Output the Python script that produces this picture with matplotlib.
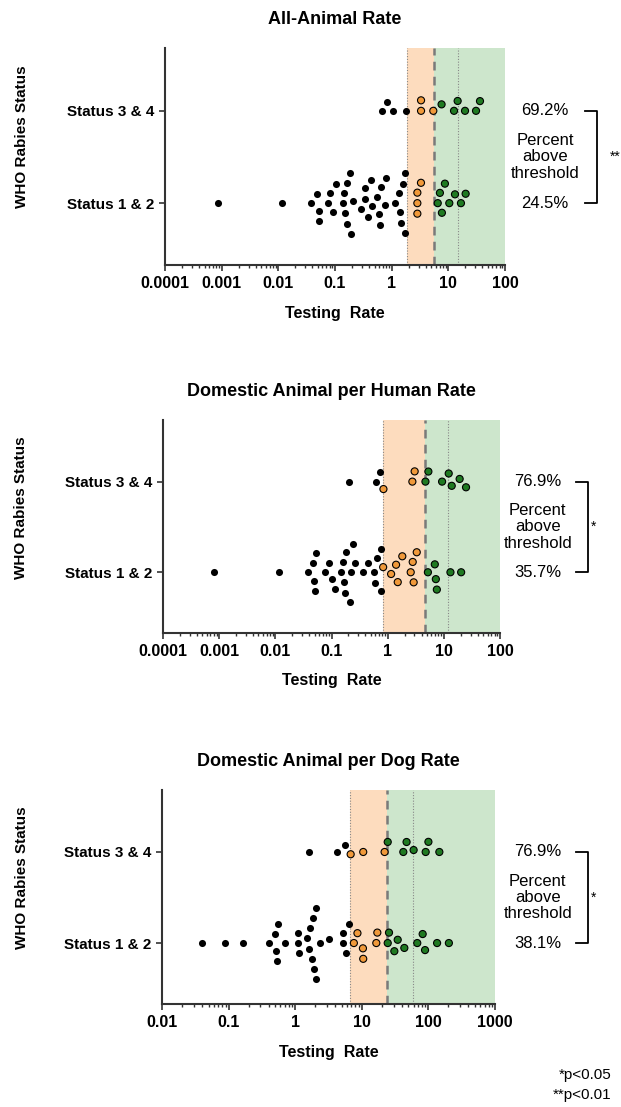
import matplotlib
matplotlib.use('Agg')
import matplotlib.pyplot as plt
import matplotlib.transforms as mtransforms
from matplotlib.ticker import LogLocator, NullFormatter
import numpy as np

plt.rcParams['font.family'] = ['Liberation Sans', 'DejaVu Sans']

titles = ['All-Animal Rate', 'Domestic Animal per Human Rate', 'Domestic Animal per Dog Rate']
groups = ['Status 1 & 2', 'Status 3 & 4']
sig = ['**', '*', '*']

# thresholds per panel: lower dotted, dashed, upper dotted
thr1 = [1.86, 5.6, 14.8]
thr2 = [0.81, 4.6, 12.0]
thr3 = [6.6, 23.7, 59.5]

xlim1 = [1e-4, 100]
xlim2 = [1e-4, 100]
xlim3 = [1e-2, 1000]

ticks1 = ['0.0001', '0.001', '0.01', '0.1', '1', '10', '100']
ticks2 = ['0.0001', '0.001', '0.01', '0.1', '1', '10', '100']
ticks3 = ['0.01', '0.1', '1', '10', '100', '1000']

# All-Animal Rate
s12_1 = [0.00087, 0.0115, 0.052, 0.104, 0.161, 0.184, 0.377, 0.64, 0.60, 1.46, 1.35,
         0.048, 0.082, 0.144, 0.333, 0.456, 0.79, 1.75, 0.138, 0.21, 1.16,
         0.038, 0.075, 0.15, 0.284, 0.44, 0.75, 1.72, 0.0515, 0.093, 0.163, 0.343,
         0.56, 1.42, 0.19, 0.61, 1.58,
         3.29, 2.84, 2.84, 2.84,
         8.7, 7.1, 13.1, 20.2, 6.5, 10.4, 16.7, 7.7]
s34_1 = [0.84, 1.07, 0.67, 1.8, 3.3, 3.3, 5.43, 7.6, 12.6, 14.6, 19.7, 30.8, 36.2]

# Domestic Animal per Human Rate
s12_2 = [0.0008, 0.0115, 0.0512, 0.224, 0.0472, 0.091, 0.166, 0.175, 0.75, 0.145,
         0.44, 0.59, 0.038, 0.075, 0.18, 0.264, 0.116, 0.367, 0.57, 0.0485, 0.103,
         0.215, 0.162, 0.65, 0.0527, 0.24, 0.76,
         0.83, 1.41, 3.29, 2.79, 1.15, 1.82, 2.57, 1.51, 2.9,
         7.2, 5.2, 6.9, 13.1, 20.3, 7.5]
s34_2 = [0.207, 0.62, 0.73, 3.02, 2.75, 0.84, 5.3, 4.7, 9.3, 13.8, 12.2, 19.1, 24.8]

# Domestic Animal per Dog Rate
s12_3 = [0.04, 0.0895, 0.167, 0.536, 2.05, 1.91, 6.4, 0.49, 1.1, 1.78, 5.27, 0.41,
         0.71, 1.09, 1.62, 2.33, 3.25, 1.51, 5.21, 0.52, 1.14, 1.66, 1.83, 5.85,
         0.555, 2.02,
         8.6, 7.6, 10.5, 17.1, 16.5, 10.4,
         25.6, 82, 24.5, 34.6, 43.5, 68, 135, 203, 30.8, 89]
s34_3 = [1.62, 4.28, 5.65, 6.8, 10.5, 22, 24.5, 42, 47, 60, 91, 100, 146]

panels = [(s12_1, s34_1, thr1, xlim1, ticks1),
          (s12_2, s34_2, thr2, xlim2, ticks2),
          (s12_3, s34_3, thr3, xlim3, ticks3)]

ORANGE_BAND = '#fddcbe'
GREEN_BAND = '#cde6cc'
ORANGE = '#f0993a'
GREEN = '#1f7a22'

fig = plt.figure(figsize=(6.21, 11.07), dpi=100)
boxes = [[0.2657, 0.7606, 0.5475, 0.196],
         [0.2625, 0.4282, 0.5427, 0.1924],
         [0.2609, 0.0930, 0.5362, 0.1933]]
bracket_x = [0.961, 0.947, 0.947]
text_x = [0.878, 0.866, 0.866]
star_x = [0.990, 0.956, 0.956]


def swarm(ax, vals, yc, d=10.5):
    pts = ax.transData.transform(np.column_stack([vals, np.full(len(vals), yc)]))
    xs = pts[:, 0]
    order = np.argsort(xs)
    placed = []
    offs = np.zeros(len(vals))
    for i in order:
        x = xs[i]
        near = [(px, py) for px, py in placed if abs(px - x) < d]
        cands = [0.0]
        for px, py in near:
            dy = np.sqrt(d ** 2 - (px - x) ** 2)
            cands += [py + dy, py - dy]
        cands.sort(key=abs)
        for c in cands:
            if all((px - x) ** 2 + (py - c) ** 2 >= d ** 2 - 1e-6 for px, py in near):
                break
        offs[i] = c
        placed.append((x, c))
    # pixels to data units
    y0 = ax.transData.transform([(1, 0)])[0, 1]
    y1 = ax.transData.transform([(1, 1)])[0, 1]
    return yc + offs / (y1 - y0)


for k, (s12, s34, thr, xlim, tlabels) in enumerate(panels):
    ax = fig.add_axes(boxes[k])
    ax.set_xscale('log')
    ax.set_xlim(xlim)
    ax.set_ylim(-0.67, 1.68)

    ax.axvspan(thr[0], thr[1], color=ORANGE_BAND, lw=0, zorder=0)
    ax.axvspan(thr[1], xlim[1], color=GREEN_BAND, lw=0, zorder=0)
    ax.axvline(thr[0], color='#888888', lw=0.8, ls=(0, (1, 1.5)), zorder=1)
    ax.axvline(thr[2], color='#888888', lw=0.8, ls=(0, (1, 1.5)), zorder=1)
    ax.axvline(thr[1], color='#7a7a7a', lw=1.8, ls=(0, (3.5, 2.5)), zorder=1)

    pct = []
    for yc, vals in enumerate([s12, s34]):
        v = np.array(vals)
        ys = swarm(ax, v, yc)
        cols = np.where(v < thr[0], 'black', np.where(v < thr[1], ORANGE, GREEN))
        black = v < thr[0]
        ax.scatter(v[black], ys[black], s=26, c='black', lw=0, zorder=3)
        ax.scatter(v[~black], ys[~black], s=26, c=cols[~black], edgecolors='black',
                   linewidths=0.8, zorder=3)
        pct.append(100.0 * np.sum(v >= thr[0]) / len(v))

    ax.set_yticks([0, 1])
    ax.set_yticklabels(groups, fontsize=11, fontweight='bold')
    decades = np.arange(np.log10(xlim[0]), np.log10(xlim[1]) + 1)
    ax.set_xticks(10.0 ** decades)
    ax.set_xticklabels(tlabels, fontsize=11.5, fontweight='bold')
    ax.xaxis.set_minor_locator(LogLocator(base=10, subs=np.arange(2, 10), numticks=20))
    ax.xaxis.set_minor_formatter(NullFormatter())
    ax.tick_params(axis='both', which='major', direction='out', length=4, width=1.2,
                   color='#333333', pad=4)
    ax.tick_params(axis='x', which='minor', direction='out', length=2.5, width=1.0,
                   color='#333333')
    for side in ['top', 'right']:
        ax.spines[side].set_visible(False)
    for side in ['left', 'bottom']:
        ax.spines[side].set_linewidth(1.5)
        ax.spines[side].set_color('#333333')

    ax.set_title(titles[k], fontsize=13, fontweight='bold', pad=17)
    ax.set_xlabel('Testing  Rate', fontsize=11.5, fontweight='bold')
    ax.xaxis.set_label_coords(0.5, -0.19)
    ax.set_ylabel('WHO Rabies Status', fontsize=11, fontweight='bold')
    ax.yaxis.set_label_coords(-0.40, 0.59)

    tr = mtransforms.blended_transform_factory(fig.transFigure, ax.transData)
    ax.text(text_x[k], 1, '%.1f%%' % pct[1], transform=tr, ha='center', va='center',
            fontsize=12, clip_on=False)
    ax.text(text_x[k], 0, '%.1f%%' % pct[0], transform=tr, ha='center', va='center',
            fontsize=12, clip_on=False)
    ax.text(text_x[k], 0.5, 'Percent\nabove\nthreshold', transform=tr, ha='center',
            va='center', fontsize=12, linespacing=1.1, clip_on=False)
    bx = bracket_x[k]
    ax.plot([bx - 0.019, bx, bx, bx - 0.019], [1, 1, 0, 0], transform=tr, color='black',
            lw=1.3, clip_on=False)
    ax.text(star_x[k], 0.5, sig[k], transform=tr, ha='center', va='center',
            fontsize=10, clip_on=False)

fig.text(0.985, 0.029, '*p<0.05', ha='right', va='center', fontsize=11)
fig.text(0.985, 0.011, '**p<0.01', ha='right', va='center', fontsize=11)

fig.savefig('out.png', dpi=100)
